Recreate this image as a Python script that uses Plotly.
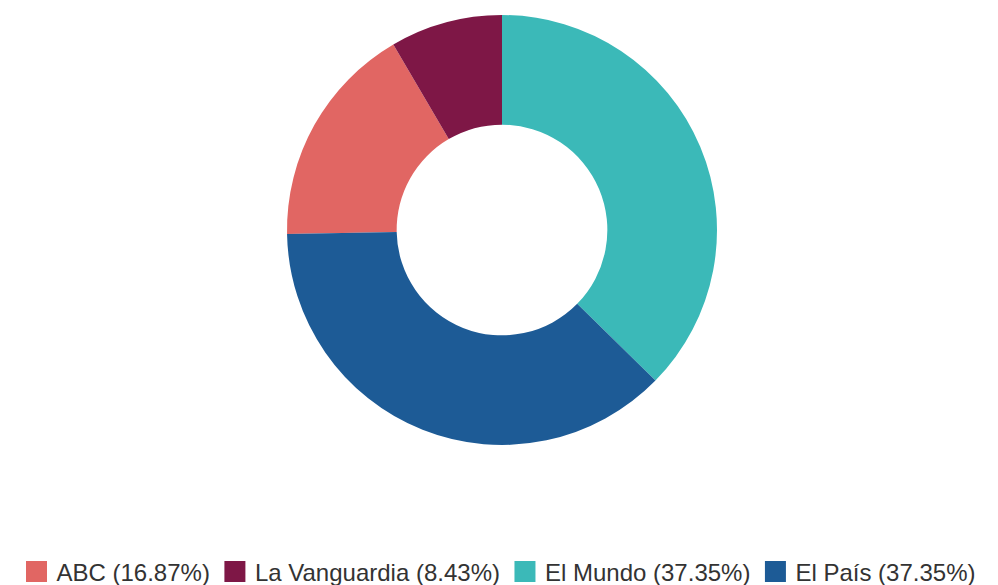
import plotly.graph_objects as go

# Data
names = ["ABC", "La Vanguardia", "El Mundo", "El País"]
counts = [14, 7, 31, 31]
colors = ["#E16663", "#7E1746", "#3BB9B8", "#1D5B96"]

total = sum(counts)
labels = [f"{n} ({c / total * 100:.2f}%)" for n, c in zip(names, counts)]
# first two slices end exactly at 12 o'clock
start = -360 * (counts[0] + counts[1]) / total

fig = go.Figure()
fig.add_trace(
    go.Pie(
        labels=labels,
        values=counts,
        marker=dict(colors=colors, line=dict(width=0)),
        hole=0.49,
        sort=False,
        direction="clockwise",
        rotation=start,
        textinfo="none",
        hoverinfo="label+value",
        showlegend=False,
    )
)
# legend entries with larger square symbols
for lab, col in zip(labels, colors):
    fig.add_trace(
        go.Scatter(
            x=[None], y=[None], mode="markers", name=lab,
            marker=dict(symbol="square", size=16, color=col,
                        line=dict(width=5, color=col)),
            hoverinfo="skip",
        )
    )

fig.update_layout(
    width=998,
    height=585,
    margin=dict(l=6, r=0, t=15, b=140),
    paper_bgcolor="white",
    plot_bgcolor="white",
    font=dict(family="Liberation Sans, Arial, sans-serif", color="#333333"),
    showlegend=True,
    xaxis=dict(visible=False),
    yaxis=dict(visible=False),
    legend=dict(
        orientation="h",
        xref="container",
        yref="container",
        x=0.5,
        xanchor="center",
        y=1 - 572 / 585,
        yanchor="middle",
        font=dict(size=24, color="#333333"),
        traceorder="normal",
        itemsizing="trace",
    ),
)

fig.write_html(
    "out.html",
    config={"displayModeBar": False},
    post_script="document.body.style.margin='0';",
)
